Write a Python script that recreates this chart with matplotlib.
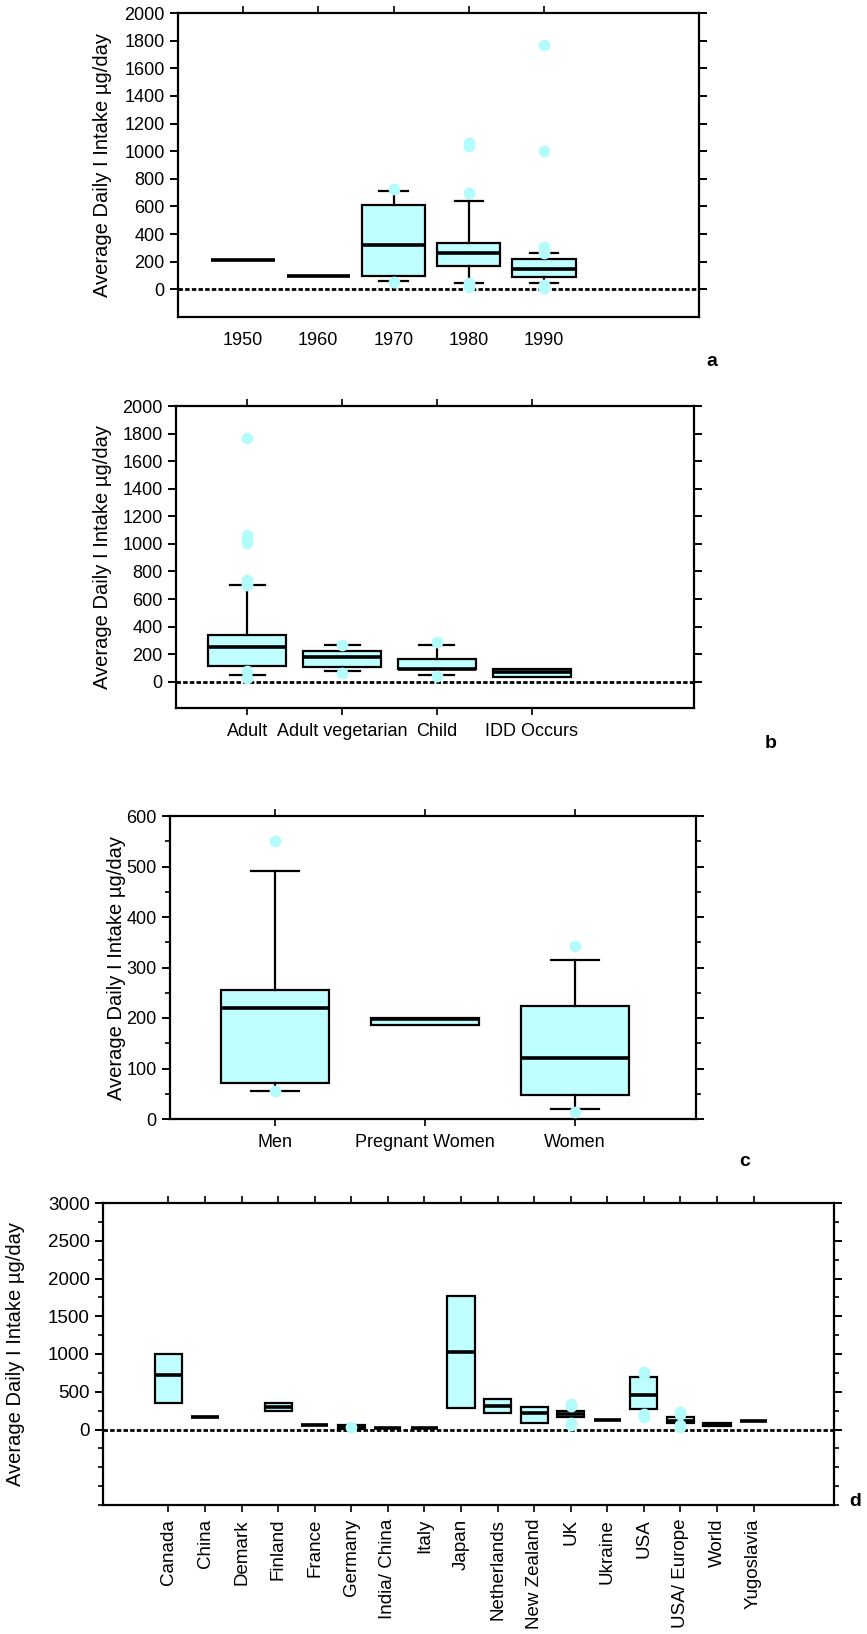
import numpy as np
import matplotlib
matplotlib.use("Agg")
import matplotlib.pyplot as plt
from matplotlib.ticker import MultipleLocator

plt.rcParams['font.family'] = ['Liberation Sans', 'DejaVu Sans']

# ---------------- data ----------------
ylabel_text = "Average Daily I Intake µg/day"

a_cats = ['1950', '1960', '1970', '1980', '1990']
a_q1 = [215, 100, 100, 172, 88]
a_med = [215, 100, 320, 260, 148]
a_q3 = [215, 100, 612, 336, 220]
a_whislo = [215, 100, 58, 43, 43]
a_whishi = [215, 100, 712, 640, 262]
a_fliers = [[], [], [725, 50], [1060, 1040, 700, 45, 20], [1770, 1000, 310, 262, 30, 8]]

b_cats = ['Adult', 'Adult vegetarian', 'Child', 'IDD Occurs']
b_q1 = [118, 106, 92, 38]
b_med = [250, 180, 92, 68]
b_q3 = [336, 224, 167, 92]
b_whislo = [48, 80, 48, 38]
b_whishi = [700, 265, 265, 92]
b_fliers = [[1770, 1065, 1045, 1005, 740, 705, 75, 25], [265, 65], [290, 40], []]

c_cats = ['Men', 'Pregnant Women', 'Women']
c_q1 = [71, 186, 47]
c_med = [219, 199, 120]
c_q3 = [255, 200, 224]
c_whislo = [55, 186, 20]
c_whishi = [491, 200, 314]
c_fliers = [[550, 55], [], [342, 14]]

d_cats = ['Canada', 'China', 'Demark', 'Finland', 'France', 'Germany', 'India/ China',
          'Italy', 'Japan', 'Netherlands', 'New Zealand', 'UK', 'Ukraine', 'USA',
          'USA/ Europe', 'World', 'Yugoslavia']
d_q1 = [350, 170, None, 250, 60, 12, 15, 15, 290, 215, 80, 160, 120, 270, 85, 40, 118]
d_med = [720, 170, None, 298, 60, 35, 15, 15, 1030, 305, 220, 205, 120, 455, 115, 60, 118]
d_q3 = [1005, 170, None, 350, 60, 58, 15, 15, 1770, 400, 295, 248, 120, 690, 165, 82, 118]
d_fliers = [[], [], [], [], [], [30], [], [], [], [], [], [340, 315, 85, 55], [],
            [760, 730, 200, 165], [235, 205, 60, 30], [], []]

BOX_FILL = '#C0FFFF'
FLIER_C = '#B4FCFC'

fig = plt.figure(figsize=(8.67, 16.34), dpi=100)


def draw_boxes(ax, q1s, meds, q3s, los, his, fliers, width):
    for i, (q1, m, q3, lo, hi, fl) in enumerate(zip(q1s, meds, q3s, los, his, fliers)):
        if q1 is None:
            continue
        st = dict(med=m, q1=q1, q3=q3, whislo=lo, whishi=hi, fliers=[])
        has_whisk = (lo < q1) or (hi > q3)
        ax.bxp([st], positions=[i], widths=width, patch_artist=True,
               showcaps=has_whisk, showfliers=False, capwidths=width * 0.45,
               boxprops=dict(facecolor=BOX_FILL, edgecolor='black', linewidth=1.6),
               medianprops=dict(color='black', linewidth=2.6, solid_capstyle='butt'),
               whiskerprops=dict(color='black', linewidth=1.6),
               capprops=dict(color='black', linewidth=1.6),
               manage_ticks=False, zorder=2)
        if fl:
            ax.plot([i] * len(fl), fl, linestyle='none', marker='o', ms=8.5,
                    mfc=FLIER_C, mec='none', zorder=3)


def style_axes(ax, cats, xlim, ylim, major, minor, tick_fs, bottom_ticks=True, rot=0,
               label_x=-0.14, xpad=6):
    ax.set_xlim(*xlim)
    ax.set_ylim(*ylim)
    ax.set_xticks(range(len(cats)))
    ax.set_xticklabels(cats, rotation=rot, fontsize=tick_fs)
    ax.yaxis.set_major_locator(MultipleLocator(major))
    if minor:
        ax.yaxis.set_minor_locator(MultipleLocator(minor))
    for s in ax.spines.values():
        s.set_linewidth(1.6)
    ax.tick_params(axis='y', which='major', direction='out', length=6, width=1.4,
                   left=True, right=True, labelsize=tick_fs)
    ax.tick_params(axis='y', which='minor', direction='out', length=3.5, width=1.2,
                   left=True, right=True)
    ax.tick_params(axis='x', which='major', direction='out', length=5, width=1.2,
                   top=True, bottom=bottom_ticks, labeltop=False, pad=xpad)
    ax.axhline(0, color='black', linewidth=2.0, linestyle=(0, (1.6, 0.8)), zorder=1)
    ax.set_ylabel(ylabel_text, fontsize=14.5)
    ax.yaxis.set_label_coords(label_x, 0.5)


# ---- panel a ----
axa = fig.add_axes([178 / 867, 1 - 317 / 1634, 521 / 867, 304 / 1634])
draw_boxes(axa, a_q1, a_med, a_q3, a_whislo, a_whishi, a_fliers, 0.84)
style_axes(axa, a_cats, (-0.864, 6.06), (-200, 2000), 200, None, 13,
           bottom_ticks=False, label_x=-0.126)
axa.set_yticks(range(0, 2001, 200))

# ---- panel b ----
axb = fig.add_axes([176 / 867, 1 - 708 / 1634, 518 / 867, 302 / 1634])
draw_boxes(axb, b_q1, b_med, b_q3, b_whislo, b_whishi, b_fliers, 0.82)
style_axes(axb, b_cats, (-0.75, 4.71), (-190, 2000), 200, None, 13,
           label_x=-0.123)
axb.set_yticks(range(0, 2001, 200))

# ---- panel c ----
axc = fig.add_axes([170 / 867, 1 - 1119 / 1634, 526 / 867, 303 / 1634])
draw_boxes(axc, c_q1, c_med, c_q3, c_whislo, c_whishi, c_fliers, 0.72)
style_axes(axc, c_cats, (-0.70, 2.806), (0, 600), 100, 50, 13, label_x=-0.083)

# ---- panel d ----
axd = fig.add_axes([103 / 867, 1 - 1505 / 1634, 731 / 867, 302 / 1634])
draw_boxes(axd, d_q1, d_med, d_q3, d_q1, d_q3, d_fliers, 0.74)
style_axes(axd, d_cats, (-1.79, 18.2), (-1000, 3000), 500, 250, 13.5, rot=90,
           label_x=-0.107, xpad=5)
axd.set_yticks(range(0, 3001, 500))

# panel letters
for txt, x, y in [('a', 712, 362), ('b', 771, 743), ('c', 745, 1162), ('d', 855, 1502)]:
    fig.text(x / 867, 1 - y / 1634, txt, fontsize=14, fontweight='bold',
             ha='center', va='center')

fig.savefig('out.png', dpi=100)
